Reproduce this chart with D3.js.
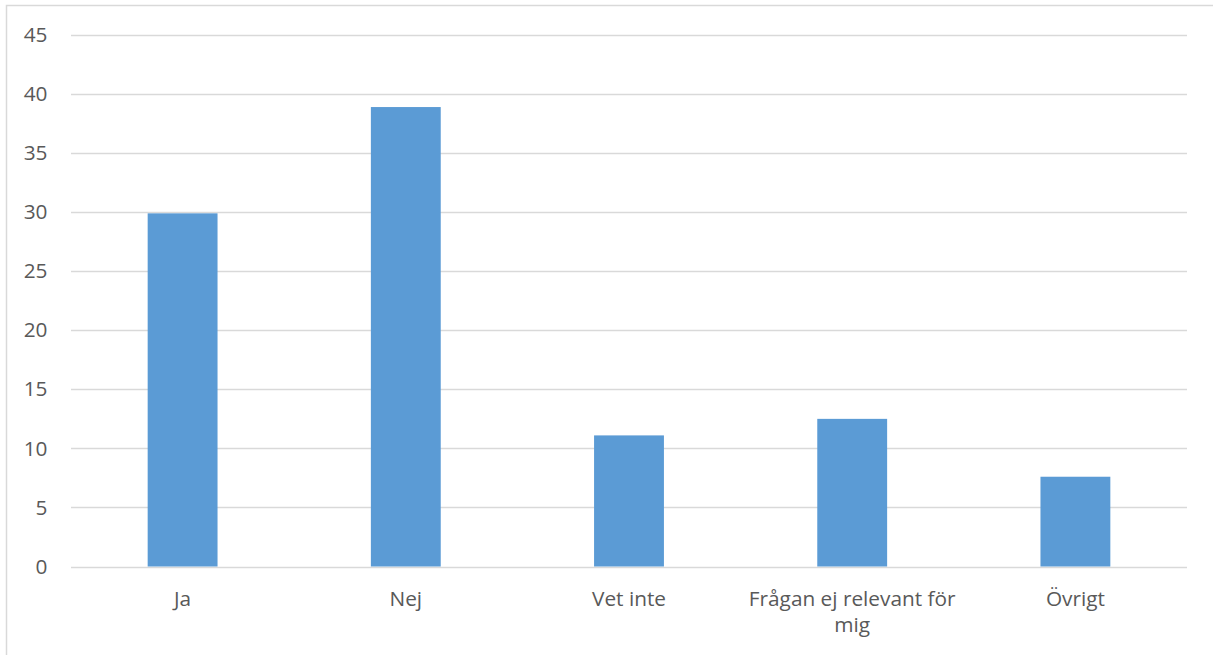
<!DOCTYPE html>
<html>
<head>
<meta charset="utf-8">
<script src="https://cdn.jsdelivr.net/npm/d3@7"></script>
<style>
  html, body { margin: 0; padding: 0; background: #fff; }
  svg { display: block; }
  text { font-family: "Open Sans", "Noto Sans", sans-serif; fill: #595959; }
</style>
</head>
<body>
<svg id="chart" width="1213" height="655"></svg>
<script>
// Survey answers
const categories = ["Ja", "Nej", "Vet inte", "Frågan ej relevant för mig", "Övrigt"];
const values = [29.9, 38.9, 11.1, 12.5, 7.6];
const yTicks = [0, 5, 10, 15, 20, 25, 30, 35, 40, 45];

const svg = d3.select("#chart");
const W = 1213, H = 655;
const margin = { left: 71, right: 26, top: 35, bottom: 88.5 };
const fontSize = "20.8px";

// Chart frame
svg.append("rect")
  .attr("x", 6.5).attr("y", 5.5)
  .attr("width", W + 10).attr("height", H + 10)
  .attr("fill", "#fff")
  .attr("stroke", "#d9d9d9").attr("stroke-width", 1.5);

const x = d3.scaleBand()
  .domain(categories)
  .range([margin.left, W - margin.right])
  .padding(0);

const y = d3.scaleLinear()
  .domain([0, 45])
  .range([H - margin.bottom, margin.top]);

// Gridlines
svg.append("g")
  .selectAll("line")
  .data(yTicks)
  .join("line")
  .attr("x1", margin.left).attr("x2", W - margin.right)
  .attr("y1", d => Math.round(y(d)) + 0.5).attr("y2", d => Math.round(y(d)) + 0.5)
  .attr("stroke", "#d9d9d9").attr("stroke-width", 1.3);

// Y axis labels
const yAxis = d3.axisLeft(y).tickValues(yTicks).tickSize(0).tickPadding(0);
const gy = svg.append("g")
  .attr("transform", `translate(${47.5},0)`)
  .call(yAxis);
gy.select(".domain").remove();
gy.selectAll("text")
  .style("font-size", fontSize)
  .attr("fill", "#595959")
  .attr("font-family", null);

// Bars
const barW = x.bandwidth() * 0.313;
svg.append("g")
  .selectAll("rect")
  .data(values)
  .join("rect")
  .attr("x", (d, i) => x(categories[i]) + x.bandwidth() / 2 - barW / 2)
  .attr("width", barW)
  .attr("y", d => y(d))
  .attr("height", d => y(0) - y(d))
  .attr("fill", "#5b9bd5");

// Category labels (wrapped when longer than the band)
const labelLines = {
  "Frågan ej relevant för mig": ["Frågan ej relevant för", "mig"]
};
const gx = svg.append("g");
categories.forEach(c => {
  const lines = labelLines[c] || [c];
  const t = gx.append("text")
    .attr("x", x(c) + x.bandwidth() / 2)
    .attr("y", 606)
    .attr("text-anchor", "middle")
    .style("font-size", fontSize);
  lines.forEach((ln, k) => {
    t.append("tspan")
      .attr("x", x(c) + x.bandwidth() / 2)
      .attr("dy", k === 0 ? 0 : 26)
      .text(ln);
  });
});
</script>
</body>
</html>
